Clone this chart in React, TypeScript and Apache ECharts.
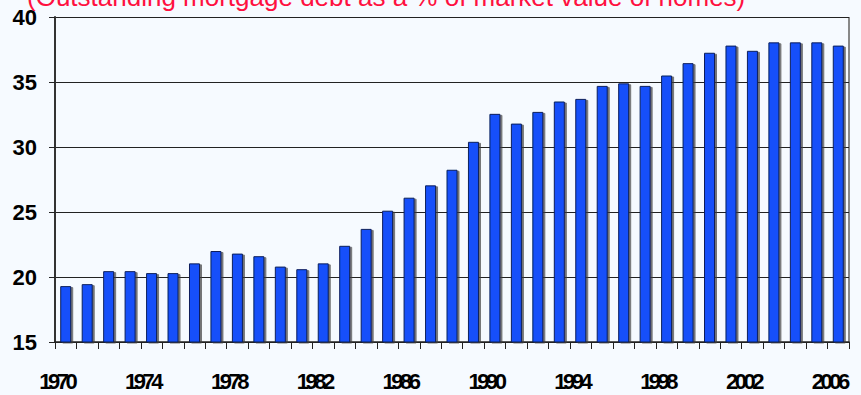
import React, { useEffect, useRef } from "react";
import * as echarts from "echarts";

// Mortgage debt as a share of home market value, 1970–2006
const years: string[] = [
  "1970", "1971", "1972", "1973", "1974", "1975", "1976", "1977", "1978", "1979",
  "1980", "1981", "1982", "1983", "1984", "1985", "1986", "1987", "1988", "1989",
  "1990", "1991", "1992", "1993", "1994", "1995", "1996", "1997", "1998", "1999",
  "2000", "2001", "2002", "2003", "2004", "2005", "2006",
];

const debtShare: number[] = [
  19.3, 19.45, 20.45, 20.45, 20.3, 20.3, 21.05, 22.0, 21.8, 21.6,
  20.8, 20.6, 21.05, 22.4, 23.7, 25.1, 26.1, 27.05, 28.25, 30.4,
  32.55, 31.8, 32.7, 33.5, 33.7, 34.7, 34.9, 34.7, 35.5, 36.45,
  37.25, 37.8, 37.4, 38.05, 38.05, 38.05, 37.8,
];

const yMin = 15;
const yMax = 40;
const yStep = 5;

const subtitle = "(Outstanding mortgage debt as a % of market value of homes)";

// Year labels are set tight, with the digits squeezed together
const YEAR_FONT = "YearTight, Liberation Sans, Arial, sans-serif";

export default function App() {
  const ref = useRef<HTMLDivElement>(null);

  useEffect(() => {
    if (!ref.current) return;
    document.body.style.margin = "0";
    const css = document.createElement("style");
    css.textContent = 'text[style*="YearTight"]{letter-spacing:-3.5px;}';
    document.head.appendChild(css);

    const chart = echarts.init(ref.current, null, { renderer: "svg" });
    chart.setOption({
      animation: false,
      backgroundColor: "#F6FAFF",
      title: {
        text: subtitle,
        left: 27,
        top: -16,
        padding: 0,
        textStyle: {
          color: "#FF1040",
          fontFamily: "Liberation Sans, Arial, sans-serif",
          fontWeight: "normal",
          fontSize: 26,
        },
      },
      grid: { left: 55, right: 12, top: 17, bottom: 53 },
      xAxis: {
        type: "category",
        data: years,
        boundaryGap: true,
        axisLine: { lineStyle: { color: "#222", width: 1.5 } },
        axisTick: { show: true, interval: 0, length: 7, lineStyle: { color: "#222" } },
        axisLabel: {
          interval: 3,
          margin: 28,
          padding: [0, 18, 0, 0],
          color: "#000",
          fontFamily: YEAR_FONT,
          fontWeight: "bold",
          fontSize: 22,
        },
      },
      yAxis: {
        type: "value",
        min: yMin,
        max: yMax,
        interval: yStep,
        axisLine: { show: true, lineStyle: { color: "#333", width: 2 } },
        axisTick: { show: true, length: 6, lineStyle: { color: "#222" } },
        axisLabel: {
          margin: 18,
          color: "#000",
          fontFamily: "Liberation Sans, Arial, sans-serif",
          fontWeight: "bold",
          fontSize: 22,
        },
        splitLine: { show: true, lineStyle: { color: "#222", width: 1 } },
      },
      series: [
        {
          type: "bar",
          data: debtShare,
          barWidth: 11,
          itemStyle: {
            color: "#1450FA",
            borderColor: "#0A1F5C",
            borderWidth: 1,
            shadowColor: "rgba(60,60,60,0.7)",
            shadowOffsetX: 2,
            shadowOffsetY: 1,
            shadowBlur: 0,
          },
        },
      ],
      graphic: [
        // right-hand frame of the plot area
        {
          type: "line",
          shape: { x1: 849, y1: 17, x2: 849, y2: 342 },
          style: { stroke: "#888", lineWidth: 2 },
        },
      ],
    });
    return () => {
      chart.dispose();
      css.remove();
    };
  }, []);

  return <div ref={ref} style={{ width: 861, height: 395 }} />;
}
